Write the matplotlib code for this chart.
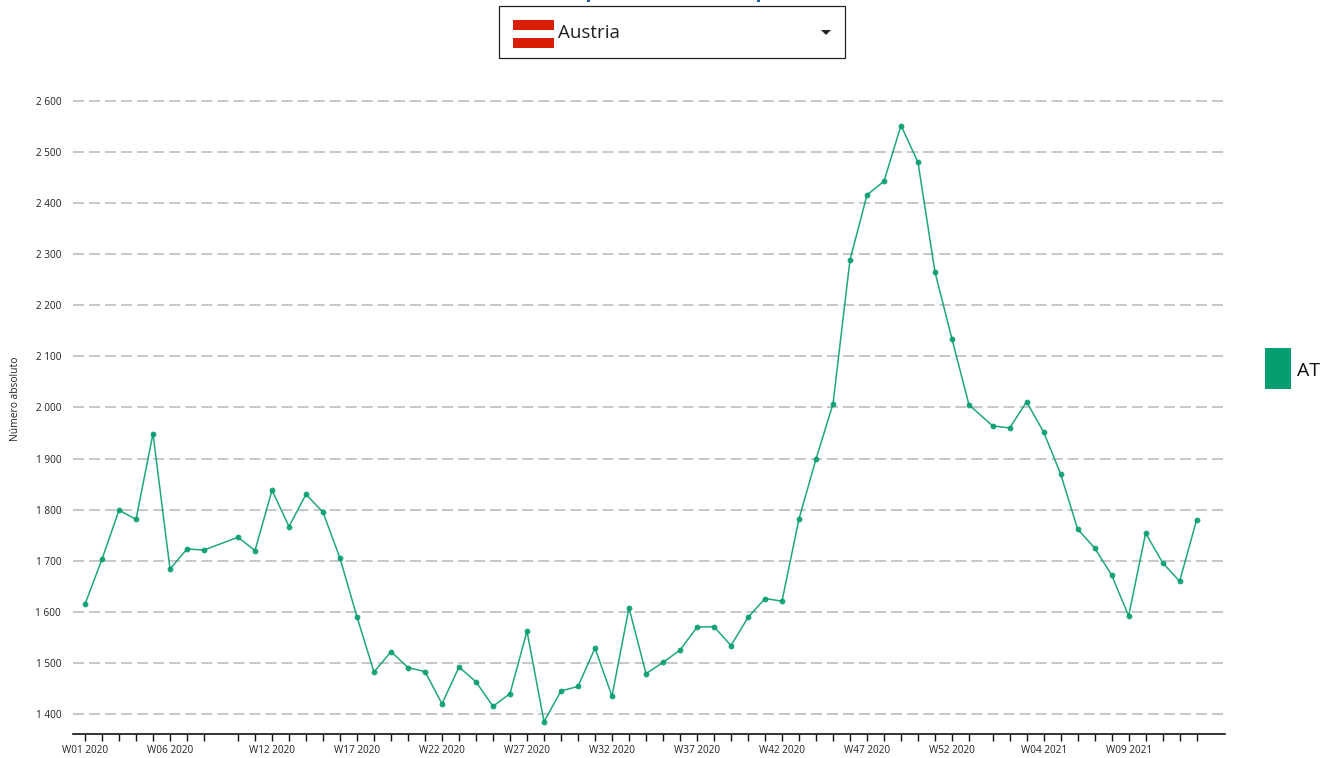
import matplotlib
matplotlib.use('Agg')
import matplotlib.pyplot as plt
from matplotlib.patches import Rectangle, Polygon

plt.rcParams['font.family'] = ['Open Sans', 'DejaVu Sans']
plt.rcParams['lines.scale_dashes'] = False

GREEN = '#069d70'

# Weekly values, week 9 of 2020 has no data
weeks_2020 = [1, 2, 3, 4, 5, 6, 7, 8, 10, 11, 12, 13, 14, 15, 16, 17, 18, 19, 20,
              21, 22, 23, 24, 25, 26, 27, 28, 29, 30, 31, 32, 33, 34, 35, 36, 37,
              38, 39, 40, 41, 42, 43, 44, 45, 46, 47, 48, 49, 50, 51, 52, 53]
values_2020 = [1615, 1703, 1799, 1781, 1949, 1684, 1723, 1721, 1746, 1720, 1838,
               1767, 1830, 1795, 1705, 1590, 1482, 1522, 1491, 1483, 1420, 1492,
               1463, 1415, 1440, 1562, 1385, 1445, 1454, 1529, 1435, 1608, 1479,
               1501, 1525, 1570, 1571, 1534, 1589, 1626, 1621, 1782, 1899, 2007,
               2289, 2416, 2443, 2552, 2480, 2265, 2134, 2005]
weeks_2021 = [1, 2, 3, 4, 5, 6, 7, 8, 9, 10, 11, 12, 13]
values_2021 = [1964, 1960, 2011, 1952, 1870, 1762, 1725, 1672, 1592, 1754, 1696,
               1660, 1780]
labelled_2020 = [1, 6, 12, 17, 22, 27, 32, 37, 42, 47, 52]
labelled_2021 = [4, 9]
y_ticks = [1400, 1500, 1600, 1700, 1800, 1900, 2000, 2100, 2200, 2300, 2400, 2500, 2600]

W, H = 1322, 758
YEAR_OFFSET = 53.39  # position of W01 2021, the axis jumps a bit at new year

x = [w - 1 for w in weeks_2020] + [YEAR_OFFSET + w - 1 for w in weeks_2021]
y = values_2020 + values_2021
labels = [f'W{w:02d} 2020' if w in labelled_2020 else '' for w in weeks_2020]
labels += [f'W{w:02d} 2021' if w in labelled_2021 else '' for w in weeks_2021]

fig = plt.figure(figsize=(W / 100, H / 100), dpi=100)

# axes placed in pixels: left 73, right 1225, bottom 734, top 90
ax = fig.add_axes([73 / W, 1 - 734 / H, (1225 - 73) / W, (734 - 90) / H])
px_x = 17.0
px_y = (714 - 101) / 1200
ax.set_xlim(-(85 - 73) / px_x, (1225 - 85) / px_x)
ax.set_ylim(1400 - 20 / px_y, 2600 + 11 / px_y)

ax.plot(x, y, color=GREEN, alpha=0.9, lw=1.1, marker='o', ms=4.2, mec=GREEN,
        mfc=GREEN, mew=0, zorder=3)

ax.set_yticks(y_ticks)
ax.set_yticklabels([f'{v // 1000} {v % 1000:03d}' for v in y_ticks], fontsize=7.2,
                   color='#222222')
ax.set_xticks(x)
ax.set_xticklabels(labels, fontsize=7.2, color='#222222')
ax.tick_params(axis='y', length=0, pad=8.5)
ax.tick_params(axis='x', length=5, width=1.0, pad=3.2, color='#111111')
ax.grid(axis='y', color='#bdbdbd', lw=1.2, ls=(0, (7.95, 3.6)))
ax.set_axisbelow(True)
for s in ['top', 'right', 'left']:
    ax.spines[s].set_visible(False)
ax.spines['bottom'].set_linewidth(1.2)
ax.spines['bottom'].set_color('#111111')

# page elements around the chart, drawn in pixel coordinates
page = fig.add_axes([0, 0, 1, 1], zorder=-1)
page.set_xlim(0, W)
page.set_ylim(H, 0)
page.axis('off')

page.text(16, 399, 'Número absoluto', rotation=90, fontsize=7.4, ha='center',
          va='center', color='#222222')

# the title above is cut off by the page edge, only these specks of it show
page.add_patch(Rectangle((586.5, 0), 3, 2, fc='#1f5f9e', ec='none'))
page.add_patch(Rectangle((756.5, 0), 3, 2, fc='#1f5f9e', ec='none'))

# country dropdown
page.add_patch(Rectangle((499, 6), 346, 52, fc='white', ec='#222222', lw=0.9))
page.add_patch(Rectangle((513, 20), 41, 9.5, fc='#d81e05', ec='none'))
page.add_patch(Rectangle((513, 38), 41, 9.5, fc='#d81e05', ec='none'))
page.text(558, 33.5, 'Austria', fontsize=13.5, va='center', color='#222222')
page.add_patch(Polygon([(821, 30), (831, 30), (826, 35)], fc='#222222', ec='none'))

# legend
page.add_patch(Rectangle((1265, 348), 26, 41, fc=GREEN, ec='none'))
page.text(1297, 371.5, 'AT', fontsize=14, va='center', color='#111111')

fig.savefig('out.png', dpi=100)
